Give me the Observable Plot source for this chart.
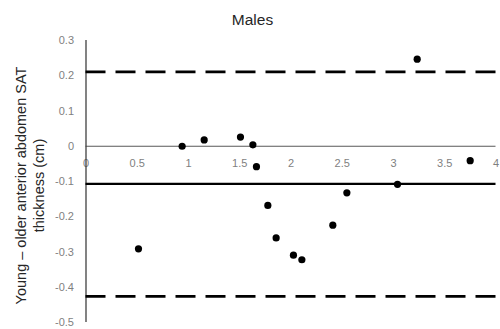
<!DOCTYPE html>
<html>
<head>
<meta charset="utf-8">
<script src="https://cdn.jsdelivr.net/npm/d3@7"></script>
<script src="https://cdn.jsdelivr.net/npm/@observablehq/plot@0.6"></script>
<style>
  html, body { margin: 0; padding: 0; background: #fff; }
  #wrap { position: relative; width: 500px; height: 329px; font-family: "Liberation Sans", Arial, sans-serif; }
  #title { position: absolute; left: 2.5px; width: 500px; top: 11px; text-align: center; font-size: 15.5px; color: #262626; }
</style>
</head>
<body>
<div id="wrap">
  <div id="title">Males</div>
</div>
<script>
// Data (Bland–Altman style plot)
const meanValues = [0.512, 0.938, 1.153, 1.507, 1.628, 1.663, 1.774, 1.855, 2.024, 2.106, 2.408, 2.545, 3.039, 3.231, 3.748];
const differences = [-0.291, 0.000, 0.018, 0.026, 0.004, -0.058, -0.168, -0.260, -0.309, -0.322, -0.224, -0.132, -0.108, 0.247, -0.041];
const meanDifference = [-0.107];
const limitsOfAgreement = [0.211, -0.426];
const xTicks = [0, 0.5, 1, 1.5, 2, 2.5, 3, 3.5, 4];
const xTickLabels = ["0", "0.5", "1", "1.5", "2", "2.5", "3", "3.5", "4"];
const yTicks = [-0.5, -0.4, -0.3, -0.2, -0.1, 0, 0.1, 0.2, 0.3];
const yLabel = "Young – older anterior abdomen SAT\nthickness (cm)";

const points = meanValues.map((x, i) => ({x, y: differences[i]}));
const xTickData = xTicks.map((v, i) => ({v, label: xTickLabels[i]}));

const chart = Plot.plot({
  width: 500,
  height: 329,
  marginLeft: 85.5,
  marginRight: 4.5,
  marginTop: 40,
  marginBottom: 7,
  style: {fontFamily: "'Liberation Sans', Arial, sans-serif", background: "#fff"},
  x: {domain: [0, 4], axis: null},
  y: {domain: [-0.5, 0.3], axis: null},
  marks: [
    Plot.axisY(yTicks, {
      tickSize: 0, tickPadding: 12, fontSize: 11, fill: "#7f7f7f",
      tickFormat: d => String(+d.toFixed(1)), label: null
    }),
    Plot.text(xTickData, {x: "v", y: () => 0, text: "label", dy: 17, fontSize: 11, fill: "#7f7f7f"}),
    Plot.ruleY([0], {stroke: "#595959", strokeWidth: 1.2}),
    Plot.ruleX([0], {stroke: "#404040", strokeWidth: 1.3}),
    Plot.ruleY(limitsOfAgreement, {stroke: "#000", strokeWidth: 2.6, strokeDasharray: "20,10"}),
    Plot.ruleY(meanDifference, {stroke: "#000", strokeWidth: 2.2}),
    Plot.dot(points, {x: "x", y: "y", r: 3.6, fill: "#000", stroke: "none"}),
    Plot.text([yLabel], {
      text: d => d, frameAnchor: "left", rotate: -90, dx: -57, dy: 4,
      fontSize: 14.5, lineHeight: 1.3, fill: "#262626", textAnchor: "middle", lineAnchor: "middle"
    })
  ]
});
document.getElementById("wrap").appendChild(chart);
</script>
</body>
</html>
